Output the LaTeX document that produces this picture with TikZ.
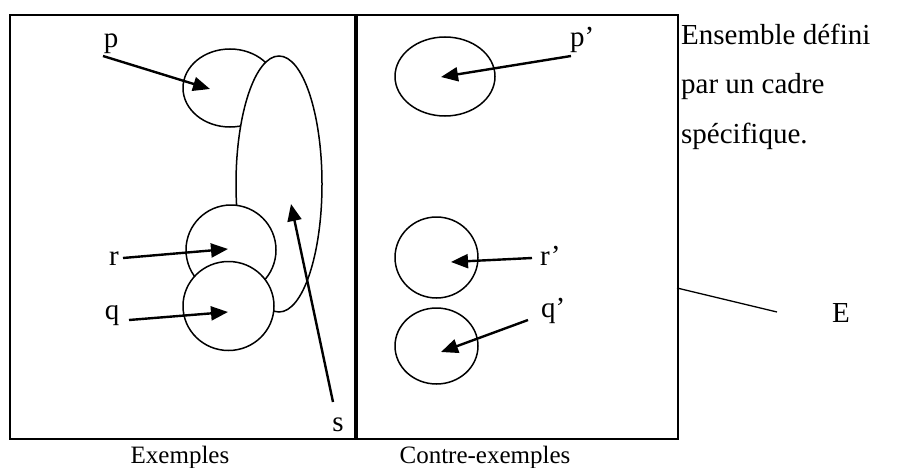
\documentclass[tikz,border=0pt]{standalone}
\usepackage{fontspec}
\setmainfont{Liberation Serif}
\usetikzlibrary{arrows.meta,shapes.geometric}
\begin{document}
\begin{tikzpicture}[x=1pt,y=-1pt,
  shp/.style={ellipse,draw,fill=white,line width=1.5pt,inner sep=0pt},
  boxx/.style={draw,line width=2pt,inner sep=0pt,anchor=north west},
  arr/.style={line width=2.4pt,-{Triangle[length=17pt,width=14pt]}},
  lbl/.style={font=\fontsize{29}{34}\selectfont,inner sep=0pt,anchor=base},
  lblw/.style={font=\fontsize{29}{34}\selectfont,inner sep=0pt,anchor=base west},
  txt/.style={font=\fontsize{29}{34}\selectfont,inner sep=0pt,anchor=base west},
  capt/.style={font=\fontsize{25}{30}\selectfont,inner sep=0pt,anchor=base}]
\useasboundingbox (0,0) rectangle (920,468);
% frames
\node[boxx,minimum width=345pt,minimum height=424pt] (L) at (9,14) {};
\node[boxx,minimum width=321pt,minimum height=424pt] (Rt) at (356,14) {};
% exemples
\node[shp,minimum width=94pt,minimum height=78pt] (P) at (230,88) {};
\node[shp,minimum width=86pt,minimum height=256pt] (S) at (279,184) {};
\node[shp,minimum width=90pt,minimum height=90pt] (R) at (231,250) {};
\node[shp,minimum width=91pt,minimum height=89pt] (Q) at (228.5,306) {};
% contre-exemples
\node[shp,minimum width=100pt,minimum height=79pt] (P2) at (445,76.5) {};
\node[shp,minimum width=83pt,minimum height=81pt] (R2) at (436.5,257.5) {};
\node[shp,minimum width=83pt,minimum height=76pt] (Q2) at (436.5,346) {};
% labels
\node[lbl] (lp) at (111,48) {p};
\node[lbl] (lr) at (114,265) {r};
\node[lbl] (lq) at (112,319) {q};
\node[lbl] (ls) at (338,431) {s};
\node[lblw] (lp2) at (570,47) {p’};
\node[lblw] (lr2) at (540,265) {r’};
\node[lblw] (lq2) at (541,317) {q’};
\node[lblw] (lE) at (832,322) {E};
\node[txt] (t1) at (681,45) {Ensemble défini};
\node[txt] (t2) at (681,94) {par un cadre};
\node[txt] (t3) at (681,143) {spécifique.};
\node[capt] (c1) at (180,463) {Exemples};
\node[capt] (c2) at (485,463) {Contre-exemples};
% arrow coordinates
\coordinate (ap0) at (103,56);  \coordinate (ap1) at (210,89);
\coordinate (ar0) at (123,258); \coordinate (ar1) at (228,249);
\coordinate (aq0) at (129,320); \coordinate (aq1) at (228,312);
\coordinate (as0) at (333,402); \coordinate (as1) at (291,204);
\coordinate (bp0) at (571,56);  \coordinate (bp1) at (441,77);
\coordinate (br0) at (532,258); \coordinate (br1) at (451,262);
\coordinate (bq0) at (528,320); \coordinate (bq1) at (441,352);
\coordinate (e0) at (677,288);  \coordinate (e1) at (777,312);
\draw[arr] (ap0) -- (ap1);
\draw[arr] (ar0) -- (ar1);
\draw[arr] (aq0) -- (aq1);
\draw[arr] (as0) -- (as1);
\draw[arr] (bp0) -- (bp1);
\draw[arr] (br0) -- (br1);
\draw[arr] (bq0) -- (bq1);
\draw[line width=1.3pt] (e0) -- (e1);
\end{tikzpicture}
\end{document}
